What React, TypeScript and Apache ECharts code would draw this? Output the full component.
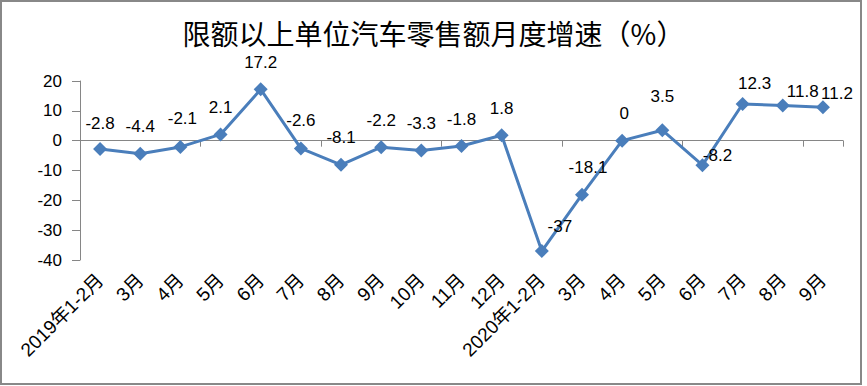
import React, { useEffect, useRef } from "react";
import * as echarts from "echarts";

const categories: string[] = [
  "2019年1-2月", "3月", "4月", "5月", "6月", "7月", "8月", "9月", "10月", "11月", "12月",
  "2020年1-2月", "3月", "4月", "5月", "6月", "7月", "8月", "9月",
];
const growth: number[] = [
  -2.8, -4.4, -2.1, 2.1, 17.2, -2.6, -8.1, -2.2, -3.3, -1.8, 1.8,
  -37, -18.1, 0, 3.5, -8.2, 12.3, 11.8, 11.2,
];
const yTicks = { min: -40, max: 20, interval: 10 };

// label placement (styling only)
const labelOffsets: [number, number][] = [
  [0, -26], [0, -27], [2, -28], [0, -27], [0, -27], [0, -28], [0, -27], [0, -27], [0, -27], [0, -27], [0, -27],
  [18, -25], [6, -27], [2, -27], [0, -34], [15, -10], [12, -20], [20, -14], [14, -14],
];

const LINE = "#4a7ebb";
const AXIS = "#868686";
const NUM_FONT = "Liberation Sans";

export default function App() {
  const ref = useRef<HTMLDivElement>(null);
  useEffect(() => {
    if (!ref.current) return;
    const chart = echarts.init(ref.current, undefined, { renderer: "svg" });
    chart.setOption({
      animation: false,
      backgroundColor: "#ffffff",
      title: {
        text: "限额以上单位汽车零售额月度增速（%）",
        left: "center",
        top: 14,
        textStyle: {
          fontFamily: "Noto Sans CJK SC",
          fontSize: 28,
          fontWeight: "normal",
          color: "#000",
        },
      },
      graphic: [
        {
          type: "rect",
          shape: { x: 1, y: 1, width: 860, height: 383 },
          style: { fill: "none", stroke: "#888888", lineWidth: 2 },
          silent: true,
        },
      ],
      grid: { left: 80, right: 24, top: 81, bottom: 126, containLabel: false },
      xAxis: [
        {
          type: "category",
          data: categories,
          position: "bottom",
          boundaryGap: true,
          axisLine: { show: true, onZero: true, lineStyle: { color: AXIS, width: 1 } },
          axisTick: { show: true, inside: false, length: 6, lineStyle: { color: AXIS } },
          axisLabel: { show: false },
          splitLine: { show: false },
        },
        {
          type: "category",
          data: categories,
          position: "bottom",
          boundaryGap: true,
          axisLine: { show: false, onZero: false },
          axisTick: { show: false },
          axisLabel: {
            show: true,
            rotate: 45,
            interval: 0,
            margin: 17,
            fontSize: 19,
            color: "#000",
            fontFamily: NUM_FONT + ", Noto Sans CJK SC",
          },
          splitLine: { show: false },
        },
      ],
      yAxis: {
        type: "value",
        min: yTicks.min,
        max: yTicks.max,
        interval: yTicks.interval,
        axisLine: { show: true, lineStyle: { color: AXIS, width: 1 } },
        axisTick: { show: true, inside: false, length: 8, lineStyle: { color: AXIS } },
        axisLabel: { margin: 18, fontSize: 17, color: "#000", fontFamily: NUM_FONT },
        splitLine: { show: false },
      },
      series: [
        {
          type: "line",
          xAxisIndex: 0,
          data: growth.map((v, i) => ({
            value: v,
            label: { offset: labelOffsets[i] },
          })),
          symbol: "diamond",
          symbolSize: 14,
          lineStyle: { color: LINE, width: 3 },
          itemStyle: { color: LINE },
          label: {
            show: true,
            position: "inside",
            fontSize: 17,
            color: "#000",
            fontFamily: NUM_FONT,
          },
        },
      ],
    });
    return () => chart.dispose();
  }, []);
  return (
    <div
      ref={ref}
      style={{ position: "fixed", left: 0, top: 0, width: 867, height: 386, background: "#fff" }}
    />
  );
}
